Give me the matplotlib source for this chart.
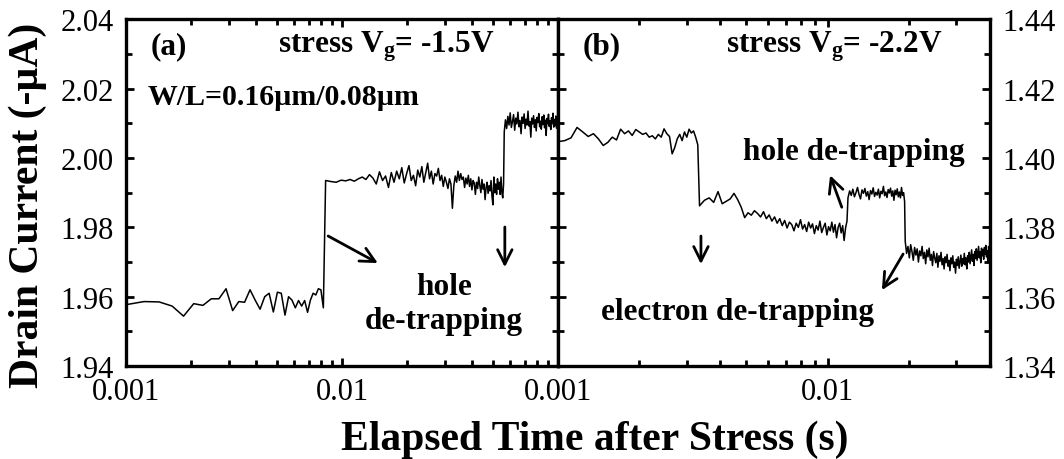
import numpy as np
import matplotlib
matplotlib.use("Agg")
import matplotlib.pyplot as plt
from matplotlib.ticker import LogLocator, MultipleLocator, FormatStrFormatter, NullFormatter

plt.rcParams["font.family"] = ["Liberation Serif", "DejaVu Serif"]
plt.rcParams["mathtext.fontset"] = "custom"
plt.rcParams["mathtext.rm"] = "Liberation Serif:bold"
plt.rcParams["mathtext.it"] = "Liberation Serif:bold"
plt.rcParams["mathtext.bf"] = "Liberation Serif:bold"

# ---- panel (a): stress Vg = -1.5 V, drain current (-uA) vs time (ms) ----
A_SEG1_T = (1.0, 8.2)
A_SEG1_I = [1.9577, 1.9586, 1.9585, 1.9573, 1.9544, 1.9580, 1.9575, 1.9594, 1.9594,
            1.9623, 1.9560, 1.9586, 1.9584, 1.9620, 1.9590, 1.9564, 1.9600, 1.9610,
            1.9556, 1.9613, 1.9610, 1.9547, 1.9600, 1.9590, 1.9568, 1.9589, 1.9573,
            1.9589, 1.9555, 1.9590, 1.9610, 1.9605, 1.9623, 1.9620, 1.9568]
A_SEG2_T = (8.4, 56.0)
A_SEG2_I = [1.9935, 1.9932, 1.9930, 1.9936, 1.9934, 1.9938, 1.9933, 1.9940,
            1.9945, 1.9938, 1.9952, 1.9942,
            1.9925, 1.9960, 1.9935, 1.9948, 1.9915, 1.9958, 1.9930, 1.9962,
            1.9940, 1.9972, 1.9928, 1.9955, 1.9978, 1.9935, 1.9950, 1.9920, 1.9965, 1.9945,
            1.9975, 1.9930, 1.9958, 1.9985, 1.9940, 1.9962, 1.9925, 1.9955, 1.9948, 1.9970,
            1.9935, 1.9950, 1.9918, 1.9945, 1.9930, 1.9912, 1.9940, 1.9925, 1.9855, 1.9920,
            1.9948, 1.9930, 1.9962, 1.9935, 1.9955, 1.9938, 1.9945, 1.9915, 1.9942, 1.9925,
            1.9950, 1.9918, 1.9940, 1.9908, 1.9935, 1.9928, 1.9895, 1.9930, 1.9912, 1.9945,
            1.9920, 1.9900, 1.9938, 1.9910, 1.9925, 1.9880, 1.9915, 1.9930, 1.9898, 1.9920,
            1.9905, 1.9935, 1.9890, 1.9865, 1.9945, 1.9900, 1.9925, 1.9895, 1.9940, 1.9910,
            1.9930, 1.9895, 1.9945, 1.9900, 1.9885, 1.9925]
A_SEG3_T = (56.4, 100.0)
A_SEG3_I = [2.0075, 2.0110, 2.0085, 2.0120, 2.0095, 2.0130, 2.0088, 2.0105, 2.0125, 2.0080,
            2.0115, 2.0098, 2.0132, 2.0090, 2.0108, 2.0070, 2.0118, 2.0100, 2.0127, 2.0085,
            2.0112, 2.0095, 2.0135, 2.0092, 2.0105, 2.0060, 2.0115, 2.0098, 2.0122, 2.0088,
            2.0110, 2.0078, 2.0117, 2.0102, 2.0128, 2.0090, 2.0106, 2.0083, 2.0119, 2.0096,
            2.0124, 2.0087, 2.0109, 2.0065, 2.0114, 2.0099, 2.0126, 2.0091, 2.0107, 2.0082,
            2.0116, 2.0101, 2.0129, 2.0089, 2.0111, 2.0093, 2.0121, 2.0086, 2.0104, 2.0118]

# ---- panel (b): stress Vg = -2.2 V ----
B_SEG1_T = (1.0, 3.3)
B_SEG1_I = [1.4047, 1.4050, 1.4058, 1.4088, 1.4075, 1.4062, 1.4070, 1.4055, 1.4036, 1.4045,
            1.4060, 1.4052, 1.4083, 1.4070, 1.4078, 1.4065, 1.4082, 1.4075, 1.4068, 1.4072,
            1.4060, 1.4064, 1.4055, 1.4068, 1.4060, 1.4084, 1.4070, 1.4062, 1.4012, 1.4030,
            1.4055, 1.4068, 1.4050, 1.4075, 1.4060, 1.4083, 1.4072, 1.4078, 1.4060, 1.4038]
B_SEG2_T = (3.35, 11.8)
B_SEG2_I = [1.3862, 1.3878, 1.3885, 1.3872, 1.3903, 1.3868, 1.3875, 1.3882, 1.3898, 1.3880,
            1.3858, 1.3828, 1.3842, 1.3835, 1.3848, 1.3840, 1.3830, 1.3845, 1.3825, 1.3836,
            1.3818, 1.3830, 1.3812, 1.3825, 1.3805, 1.3820, 1.3798, 1.3815, 1.3808, 1.3790,
            1.3812, 1.3800, 1.3822, 1.3795, 1.3808, 1.3788, 1.3815, 1.3798, 1.3810, 1.3782,
            1.3805, 1.3792, 1.3818, 1.3785, 1.3800, 1.3812, 1.3778, 1.3802, 1.3790, 1.3815,
            1.3786, 1.3808, 1.3770, 1.3800, 1.3812, 1.3784, 1.3805, 1.3762, 1.3798, 1.3818]
B_SEG3_T = (11.9, 19.3)
B_SEG3_I = [1.3885, 1.3905, 1.3892, 1.3910, 1.3888, 1.3900, 1.3915, 1.3895, 1.3882, 1.3908,
            1.3898, 1.3912, 1.3890, 1.3903, 1.3880, 1.3906, 1.3896, 1.3914, 1.3889, 1.3901,
            1.3893, 1.3910, 1.3885, 1.3904, 1.3897, 1.3918, 1.3891, 1.3902, 1.3886, 1.3909,
            1.3899, 1.3913, 1.3890, 1.3905, 1.3878, 1.3907, 1.3894, 1.3911, 1.3888, 1.3902,
            1.3885, 1.3915, 1.3892, 1.3900, 1.3875]
B_SEG4_T = (19.4, 40.0)
B_SEG4_I = [1.3760, 1.3725, 1.3745, 1.3712, 1.3750, 1.3730, 1.3705, 1.3742, 1.3720, 1.3738,
            1.3700, 1.3732, 1.3718, 1.3745, 1.3710, 1.3728, 1.3695, 1.3735, 1.3715, 1.3740,
            1.3705, 1.3722, 1.3690, 1.3730, 1.3712, 1.3698, 1.3725, 1.3685, 1.3718, 1.3702,
            1.3728, 1.3692, 1.3710, 1.3680, 1.3715, 1.3698, 1.3722, 1.3688, 1.3705, 1.3675,
            1.3712, 1.3695, 1.3718, 1.3685, 1.3700, 1.3668, 1.3708, 1.3690, 1.3715, 1.3682,
            1.3702, 1.3720, 1.3688, 1.3710, 1.3695, 1.3725, 1.3692, 1.3712, 1.3680, 1.3718,
            1.3700, 1.3728, 1.3695, 1.3715, 1.3735, 1.3702, 1.3722, 1.3690, 1.3730, 1.3710,
            1.3738, 1.3705, 1.3725, 1.3745, 1.3712, 1.3730, 1.3698, 1.3740, 1.3718, 1.3735,
            1.3708, 1.3742, 1.3722, 1.3748, 1.3715, 1.3732, 1.3700, 1.3745, 1.3725, 1.3738]

A_XLIM = (0.001, 0.1)
B_XLIM = (0.001, 0.04)
A_YLIM = (1.94, 2.04)
B_YLIM = (1.34, 1.44)


def build(segments):
    # each segment: (t_start_ms, t_end_ms), samples -> time in s, current
    ts, ys = [], []
    for (t0, t1), vals in segments:
        ts.append(np.linspace(t0, t1, len(vals)) * 1e-3)
        ys.append(np.array(vals))
    return np.concatenate(ts), np.concatenate(ys)


def style(ax, xlim, ylim, xlabels):
    ax.set_xscale("log")
    ax.set_xlim(*xlim)
    ax.set_ylim(*ylim)
    ax.xaxis.set_major_locator(LogLocator(base=10, numticks=10))
    ax.xaxis.set_minor_locator(LogLocator(base=10, subs=np.arange(2, 10), numticks=20))
    ax.xaxis.set_minor_formatter(NullFormatter())
    ax.set_xticks(list(xlabels.keys()), list(xlabels.values()))
    ax.yaxis.set_major_locator(MultipleLocator(0.02))
    ax.yaxis.set_minor_locator(MultipleLocator(0.01))
    ax.yaxis.set_major_formatter(FormatStrFormatter("%.2f"))
    ax.tick_params(which="both", direction="in", top=True, bottom=True,
                   left=True, right=True, width=2.0, labelsize=22)
    ax.tick_params(which="major", length=6)
    ax.tick_params(which="minor", length=4)
    ax.tick_params(axis="x", pad=8)
    ax.tick_params(axis="y", pad=9)
    for s in ax.spines.values():
        s.set_linewidth(2.4)


fig = plt.figure(figsize=(10.64, 4.6), dpi=100)
axa = fig.add_axes([0.1184, 0.202, 0.406, 0.754])
axb = fig.add_axes([0.5244, 0.202, 0.406, 0.754])

ta, ia = build([(A_SEG1_T, A_SEG1_I), (A_SEG2_T, A_SEG2_I), (A_SEG3_T, A_SEG3_I)])
tb, ib = build([(B_SEG1_T, B_SEG1_I), (B_SEG2_T, B_SEG2_I),
                (B_SEG3_T, B_SEG3_I), (B_SEG4_T, B_SEG4_I)])
axa.plot(ta, ia, color="black", lw=1.1)
axb.plot(tb, ib, color="black", lw=1.1)

style(axa, A_XLIM, A_YLIM, {0.001: "0.001", 0.01: "0.01", 0.1: ""})
style(axb, B_XLIM, B_YLIM, {0.001: "0.001", 0.01: "0.01"})
axb.tick_params(axis="y", which="both", labelleft=False, labelright=True)

bold = dict(fontsize=22.5, fontweight="bold", va="center")
arrow = dict(arrowstyle="->", lw=2.0, color="black", mutation_scale=26, shrinkA=0, shrinkB=0)

# panel (a) annotations
axa.text(0.056, 0.925, "(a)", transform=axa.transAxes, ha="left", **bold)
axa.text(0.352, 0.925, r"stress V$_\mathrm{g}$= -1.5V", transform=axa.transAxes, ha="left", **bold)
axa.text(0.051, 0.778, "W/L=0.16\u00b5m/0.08\u00b5m", transform=axa.transAxes, ha="left",
         fontsize=21.5, fontweight="bold", va="center")
axa.text(0.736, 0.18, "hole\nde-trapping", transform=axa.transAxes, ha="center",
         linespacing=1.25, **bold)
axa.annotate("", xy=(0.583, 0.297), xytext=(0.468, 0.375),
             xycoords="axes fraction", arrowprops=arrow)
axa.annotate("", xy=(0.877, 0.285), xytext=(0.877, 0.401),
             xycoords="axes fraction", arrowprops=arrow)

# panel (b) annotations
axb.text(0.058, 0.925, "(b)", transform=axb.transAxes, ha="left", **bold)
axb.text(0.389, 0.925, r"stress V$_\mathrm{g}$= -2.2V", transform=axb.transAxes, ha="left", **bold)
axb.text(0.428, 0.62, "hole de-trapping", transform=axb.transAxes, ha="left", **bold)
axb.text(0.10, 0.156, "electron de-trapping", transform=axb.transAxes, ha="left", **bold)
axb.annotate("", xy=(0.630, 0.550), xytext=(0.657, 0.458),
             xycoords="axes fraction", arrowprops=arrow)
axb.annotate("", xy=(0.331, 0.294), xytext=(0.331, 0.375),
             xycoords="axes fraction", arrowprops=arrow)
axb.annotate("", xy=(0.750, 0.219), xytext=(0.799, 0.323),
             xycoords="axes fraction", arrowprops=arrow)

fig.text(0.559, 0.043, "Elapsed Time after Stress (s)", ha="center", va="center",
         fontsize=30, fontweight="bold")
fig.text(0.026, 0.554, "Drain Current (-\u00b5A)", ha="center", va="center",
         rotation=90, fontsize=30, fontweight="bold")

fig.savefig("out.png", dpi=100)
